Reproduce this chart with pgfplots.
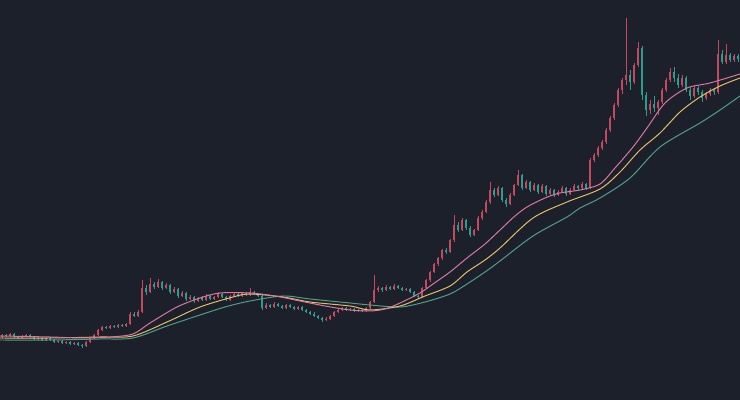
\documentclass[border=0pt]{standalone}
\usepackage{pgfplots}
\usepackage{pgfplotstable}
\pgfplotsset{compat=1.18}

\definecolor{bgc}{HTML}{1C202B}
\definecolor{upc}{HTML}{C4485E}
\definecolor{dnc}{HTML}{2A9D8F}
\definecolor{mafast}{HTML}{D9779F}
\definecolor{mamid}{HTML}{E3BE64}
\definecolor{maslow}{HTML}{4F9E8C}

% candles: x position, open, high, low, close
\pgfplotstableread{
x o h l c
2 63 66 61 65
6 65 66 63 64
10 64 67 63 66
14 66 67 62 63
18 63 64 61 62
22 62 65 61 64
26 64 66 63 65
30 65 66 62 63
34 63 64 60 61
38 61 63 60 62
42 62 63 59 60
46 60 63 59 62
50 62 63 59 60
54 60 61 57 58
58 58 60 57 59
62 59 60 56 57
66 57 59 56 58
70 58 59 55 56
74 56 58 55 57
78 57 58 54 55
82 55 56 52 54
86 54 59 53 58
90 58 63 57 62
94 62 66 61 65
98 65 71 64 70
102 70 74 69 73
106 73 74 71 72
110 72 75 71 74
114 74 75 72 73
118 73 76 72 75
122 75 76 73 74
126 74 77 73 76
130 76 88 75 86
134 86 88 83 84
138 84 90 83 88
142 88 120 87 112
146 112 115 105 108
150 108 122 107 116
154 116 118 111 113
158 113 121 112 118
162 118 119 110 112
166 112 117 111 115
170 115 116 106 108
174 108 113 107 111
178 111 112 102 104
182 104 109 103 107
186 107 108 99 101
190 101 105 100 103
194 103 104 97 99
198 99 103 98 102
202 102 104 99 100
206 100 106 99 104
210 104 105 100 101
214 101 104 100 103
218 103 108 102 106
222 106 107 102 103
226 103 104 99 100
230 100 105 99 104
234 104 107 103 106
238 106 107 103 104
242 104 108 103 107
246 107 108 104 105
250 105 112 104 108
254 108 109 105 106
258 106 107 103 104
262 104 105 90 92
266 92 97 91 95
270 95 96 92 93
274 93 98 92 96
278 96 97 93 94
282 94 95 91 92
286 92 96 91 95
290 95 96 92 93
294 93 94 90 91
298 91 94 90 93
302 93 94 89 90
306 90 91 87 88
310 88 89 85 86
314 86 88 83 84
318 84 85 81 82
322 82 83 78 80
326 80 83 79 81
330 81 85 80 84
334 84 89 83 88
338 88 91 87 90
342 90 93 89 92
346 92 93 89 90
350 90 92 89 91
354 91 92 88 89
358 89 91 88 90
362 90 91 88 89
366 89 93 88 92
370 92 99 91 98
374 98 125 97 110
378 110 114 108 112
382 112 113 108 110
386 110 115 109 113
390 113 114 110 111
394 111 116 110 114
398 114 115 111 112
402 112 113 109 110
406 110 112 109 111
410 111 112 107 108
414 108 109 103 104
418 104 105 101 103
422 103 113 102 112
426 112 121 111 120
430 120 129 118 128
434 128 137 127 136
438 136 143 134 142
442 142 151 140 150
446 150 152 146 148
450 148 161 147 160
454 160 185 158 175
458 175 178 168 170
462 170 182 169 180
466 180 181 170 172
470 172 174 163 165
474 165 171 164 170
478 170 184 169 182
482 182 190 180 188
486 188 200 187 198
490 198 218 196 210
494 210 212 203 205
498 205 214 204 212
502 212 213 198 200
506 200 202 193 196
510 196 207 195 205
514 205 216 204 215
518 215 230 214 225
522 225 226 210 212
526 212 220 211 218
530 218 219 208 210
534 210 217 209 215
538 215 216 206 208
542 208 216 207 214
546 214 215 204 206
550 206 212 205 210
554 210 211 203 205
558 205 210 204 208
562 208 214 207 212
566 212 213 204 206
570 206 212 205 210
574 210 216 209 214
578 214 215 210 212
582 212 218 211 216
586 216 217 210 212
590 212 242 211 240
594 240 247 238 245
598 245 254 243 252
602 252 260 250 258
606 258 272 256 270
610 270 284 268 282
614 282 297 280 295
618 295 312 293 310
622 310 322 306 320
626 320 382 315 325
630 325 330 310 318
634 318 337 316 335
638 335 358 333 352
642 352 354 300 305
646 305 308 284 290
650 290 300 286 296
654 296 304 288 292
658 292 300 285 298
662 298 312 296 310
666 310 322 308 320
670 320 332 318 328
674 328 333 318 322
678 322 326 312 315
682 315 325 313 322
686 322 324 308 310
690 310 313 300 304
694 304 314 302 312
698 312 314 305 308
702 308 310 298 302
706 302 308 300 306
710 306 312 304 310
714 310 312 305 308
718 308 360 306 346
722 346 350 336 338
726 338 356 336 345
730 345 347 338 340
734 340 346 338 344
738 344 346 338 341
}\candles

\pgfplotsset{
    candle/.style 2 args={draw=none, mark=none,
        error bars/.cd, y dir=plus, y explicit, error mark=none,
        error bar style={draw=#1, line width=#2}},
    rising/.style={x filter/.expression={\thisrow{c}>=\thisrow{o} ? x : nan}},
    falling/.style={x filter/.expression={\thisrow{c}<\thisrow{o} ? x : nan}},
}

\begin{document}
\begin{tikzpicture}
\fill[bgc] (0,0) rectangle (18.5cm,10cm);
\begin{axis}[
    at={(0,0)}, anchor=south west,
    width=18.5cm, height=10cm,
    scale only axis,
    xmin=0, xmax=740, ymin=0, ymax=400,
    hide axis,
    clip=true,
]
% wicks
\addplot[rising, candle={upc}{0.55pt}]
    table[x=x, y=l, y error plus expr=\thisrow{h}-\thisrow{l}] {\candles};
\addplot[falling, candle={dnc}{0.55pt}]
    table[x=x, y=l, y error plus expr=\thisrow{h}-\thisrow{l}] {\candles};
% bodies
\addplot[rising, candle={upc}{1.7pt}]
    table[x=x, y=o, y error plus expr={max(\thisrow{c}-\thisrow{o},0.8)}] {\candles};
\addplot[falling, candle={dnc}{1.7pt}]
    table[x=x, y=c, y error plus expr={max(\thisrow{o}-\thisrow{c},0.8)}] {\candles};

% moving averages
\addplot[maslow, line width=0.7pt, smooth, mark=none] coordinates {
    (0,60) (50,60) (100,61) (133,62) (167,74) (200,85) (225,93) (250,99)
    (283,104) (310,101) (350,97) (370,95) (400,93) (425,98) (450,106)
    (467,116) (485,128) (500,139) (533,164) (567,183) (580,192) (600,202)
    (630,222) (660,253) (700,277) (720,290) (740,304)
};
\addplot[mamid, line width=0.7pt, smooth, mark=none] coordinates {
    (0,62) (50,62) (100,63) (133,64) (167,78) (200,93) (233,103) (250,106)
    (283,103) (310,98) (350,94) (370,90) (400,94) (425,104) (450,114)
    (467,128) (485,140) (500,152) (533,182) (567,198) (600,211) (620,228)
    (640,250) (660,267) (680,288) (700,303) (720,314) (740,322)
};
\addplot[mafast, line width=0.7pt, smooth, mark=none] coordinates {
    (0,64) (50,63) (83,62) (110,63) (133,66) (150,77) (177,93) (200,102)
    (220,107) (250,107) (275,104) (300,99) (325,94) (350,90) (370,89)
    (385,91) (400,97) (420,107) (433,116) (450,128) (467,142) (485,156)
    (500,170) (515,184) (527,193) (545,202) (560,207) (580,210) (600,216)
    (615,232) (633,253) (647,272) (665,297) (687,312) (710,317) (740,326)
};
\end{axis}
\end{tikzpicture}
\end{document}
